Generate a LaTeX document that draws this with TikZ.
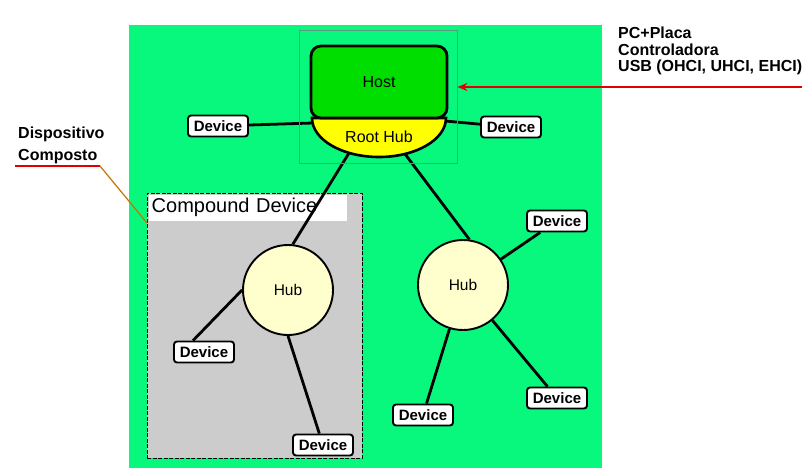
\documentclass[tikz,border=0pt]{standalone}
\usepackage{fontspec}
\setmainfont{Liberation Sans}
\usetikzlibrary{arrows.meta,positioning}
\definecolor{BgGreen}{RGB}{8,248,125}
\definecolor{HostGreen}{RGB}{0,222,0}
\definecolor{RootYellow}{RGB}{255,255,0}
\definecolor{HubCream}{RGB}{255,255,205}
\definecolor{CompGray}{RGB}{204,204,204}
\definecolor{FrameGray}{RGB}{95,150,128}
\definecolor{NoteRed}{RGB}{225,0,0}
\definecolor{NoteOrange}{RGB}{200,115,0}
\tikzset{
  usbline/.style={line width=2.8pt, black},
  devbox/.style={draw=black, line width=1.9pt, fill=white, rounded corners=3pt,
    minimum width=60pt, minimum height=21pt, inner sep=2pt, font=\fontsize{15}{15}\selectfont\bfseries},
  hubnode/.style={circle, draw=black, line width=1.9pt, fill=HubCream, minimum size=90pt,
    inner sep=0pt, font=\fontsize{15.5}{16}\selectfont},
  hostbox/.style={draw=black, line width=2.8pt, fill=HostGreen, rounded corners=10pt,
    minimum width=136pt, minimum height=72pt, font=\fontsize{16}{16}\selectfont},
  compbox/.style={draw=black, line width=0.9pt, dash pattern=on 4pt off 1.5pt, fill=CompGray},
  complab/.style={fill=white, anchor=north west, text width=192pt, inner xsep=3pt,
    minimum height=26pt, align=left, font=\fontsize{20}{20}\selectfont},
  hostframe/.style={draw=FrameGray, line width=0.8pt, minimum width=158pt, minimum height=133pt},
  note/.style={font=\fontsize{16}{16.5}\selectfont\bfseries, align=left, inner sep=0pt, anchor=base west},
  ctlarrow/.style={-{Stealth[length=10pt,width=8pt]}, line width=1.2pt, NoteRed},
}
\begin{document}
\begin{tikzpicture}[x=1pt,y=-1pt,>=Stealth]
  \useasboundingbox (0,0) rectangle (802,468);
  \fill[white] (0,0) rectangle (802,468);
  \fill[BgGreen] (129,25) rectangle (602,468);

  % compound device
  \node[compbox, minimum width=215pt, minimum height=265pt] (compound) at (254.5,325.5) {};
  \node[complab] (complab) at (148.5,194.5) {Compound Device};

  % host + root hub
  \draw[fill=RootYellow, line width=2.6pt] (312,118) arc (180:360:67pt and 39pt) -- cycle;
  \node[font=\fontsize{16}{16}\selectfont] (roothub) at (379,137) {Root Hub};
  \node[hostbox] (host) at (379,82) {Host};
  \coordinate (rhW) at (313,123);
  \coordinate (rhE) at (445,121);
  \coordinate (rhL) at (349,153);
  \coordinate (rhR) at (405,154);

  \node[devbox] (devL) at (218,126) {Device};
  \node[devbox] (devR) at (511,127) {Device};

  \node[hubnode] (hubA) at (288,290) {Hub};
  \node[devbox] (devA1) at (204,352) {Device};
  \node[devbox] (devA2) at (323,445) {Device};

  \node[hubnode] (hubB) at (463,285) {Hub};
  \node[devbox] (devB1) at (557,221) {Device};
  \node[devbox] (devB2) at (557,398) {Device};
  \node[devbox] (devB3) at (423,415) {Device};

  % cables
  \draw[usbline] (devL) -- (rhW);
  \draw[usbline] (rhE) -- (devR);
  \draw[usbline] (rhL) -- (hubA.84);
  \draw[usbline] (rhR) -- (hubB.82);
  \draw[usbline] (hubA.west) -- ([xshift=-11pt]devA1.north);
  \draw[usbline] (hubA.south) -- (devA2);
  \foreach \d in {devB1,devB2,devB3}
    \draw[usbline] (hubB) -- (\d);

  \node[hostframe] (hostframe) at (378,96.5) {};

  % notes
  \node[note] (pclabel) at (618,72) {PC+Placa\\Controladora\\USB (OHCI, UHCI, EHCI)};
  \coordinate (ctltail) at (802,87);
  \draw[ctlarrow] (ctltail) -- (ctltail -| hostframe.east);

  \node[note, font=\fontsize{16}{21}\selectfont\bfseries] (dclabel) at (18,160) {Dispositivo\\Composto};
  \coordinate (ulA) at (15,166);
  \coordinate (ulB) at (100,166);
  \coordinate (cpdA) at (147,223);
  \draw[NoteRed, line width=1.2pt] (ulA) -- (ulB);
  \draw[NoteOrange, line width=1.2pt] (ulB) -- (cpdA);
\end{tikzpicture}
\end{document}
